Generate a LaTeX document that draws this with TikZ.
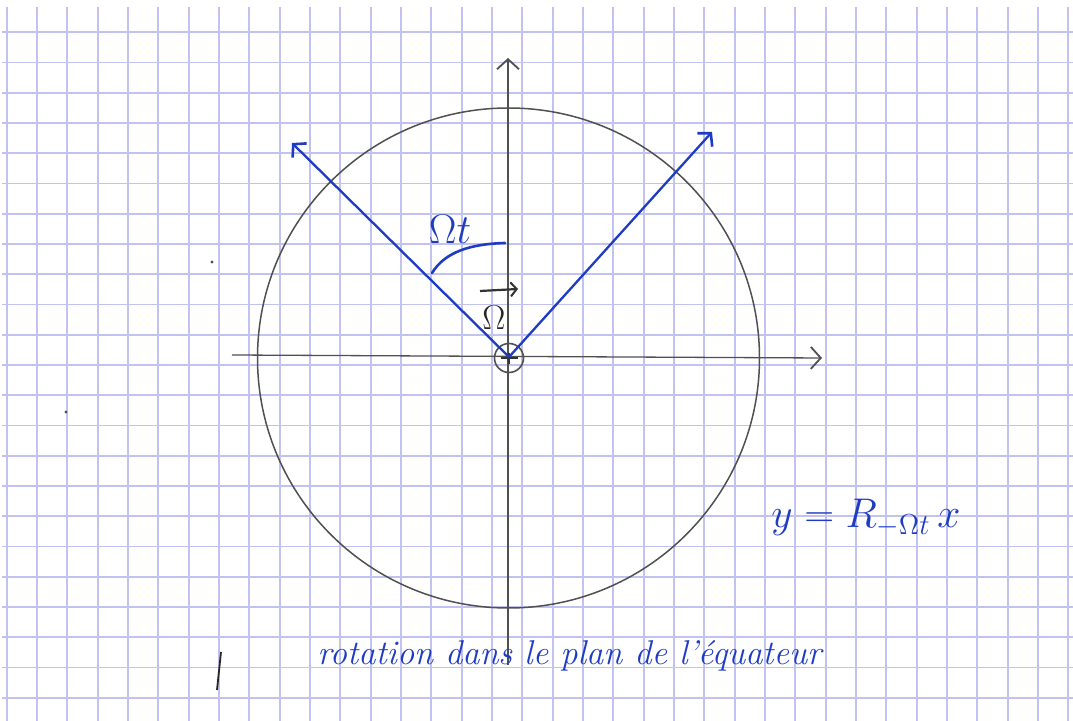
\documentclass[tikz,border=0pt]{standalone}
\usepackage{fontspec}
\usetikzlibrary{arrows.meta}
\definecolor{gridc}{RGB}{194,194,240}
\definecolor{ink}{RGB}{30,60,195}
\definecolor{pencil}{RGB}{80,80,80}
\begin{document}
\begin{tikzpicture}[x=0.5pt,y=-0.5pt,
  gridline/.style={gridc,line width=0.95pt},
  axisline/.style={pencil,line width=0.65pt},
  axistip/.style={-{Straight Barb[length=5pt,width=11pt,line width=0.9pt]}},
  vecline/.style={ink,line width=1.15pt,-{Straight Barb[length=4.5pt,width=10pt,line width=1.3pt]}},
  inktext/.style={ink,inner sep=0pt},
]
\useasboundingbox (0,0) rectangle (1073,721);
\fill[white] (0,0) rectangle (1073,721);
% squared paper
\foreach \k in {0,...,35} \draw[gridline] ({6.7+30.33*\k},7) -- ({6.7+30.33*\k},721);
\foreach \k in {0,...,22} \draw[gridline] (2,{32.3+30.25*\k}) -- (1073,{32.3+30.25*\k});

% key points
\coordinate (O) at (509,357);
\coordinate (xs) at (232,355);
\coordinate (xe) at (822,358);
\coordinate (ys) at (508,665);
\coordinate (ye) at (508,58);
\coordinate (tipL) at (292,143);
\coordinate (tipR) at (712,132);
\coordinate (arcA) at (432,273);
\coordinate (arcB) at (505,243);
\coordinate (om1) at (480,291);
\coordinate (om2) at (518,289);

% circle
\draw[pencil,line width=0.75pt] (508.5,358) ellipse [x radius=125.5pt, y radius=125pt];

% axes
\draw[axisline,axistip] (xs) -- (xe);
\draw[axisline,axistip] (ys) -- (ye);

% origin marker
\node[draw=pencil,circle,minimum size=14.5pt,inner sep=0pt,line width=0.8pt] (Oc) at (509,358) {};
\draw[black!80,line width=1.3pt] (501,358) -- (518,358);
\draw[black!80,line width=1.1pt] (509,353) -- (509,364);

% rotating vectors
\draw[vecline] (O) -- (tipL);
\draw[vecline] (O) -- (tipR);

% angle arc
\draw[ink,line width=1.3pt,line cap=round] (arcA) .. controls (445,252) and (470,244) .. (arcB);
\node[inktext,font=\fontsize{20}{24}\selectfont] (angle) at (450,229) {$\Omega t$};

% Omega vector
\draw[black!80,line width=1.1pt,-{Straight Barb[length=3pt,width=7pt,line width=1pt]}] (om1) -- (om2);
\node[inner sep=0pt,font=\fontsize{17}{20}\selectfont,black!85] (omega) at (494,318) {$\Omega$};

% formula
\node[inktext,font=\fontsize{20}{24}\selectfont] (eq) at (866,518) {$y = R_{-\Omega t}\,x$};

% caption
\node[inktext,font=\fontsize{17.2}{20}\selectfont\itshape,anchor=base west] (cap) at (317,665) {rotation dans le plan de l'équateur};

% stray pencil marks on the sheet
\coordinate (s1) at (221,652);
\coordinate (s2) at (217,690);
\draw[black!85,line width=0.9pt] (s1) -- (s2);
\fill[pencil] (212,262) circle (0.8pt);
\fill[pencil] (66,412) circle (0.8pt);
\end{tikzpicture}
\end{document}
